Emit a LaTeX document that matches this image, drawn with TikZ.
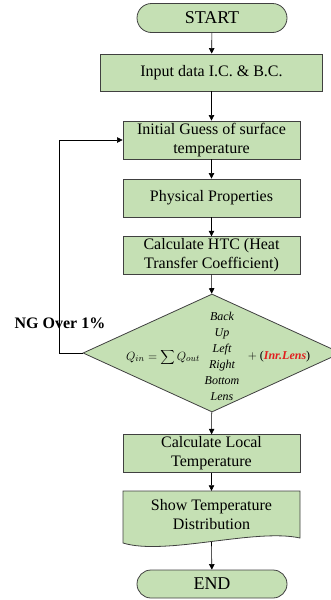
\documentclass[tikz,border=0pt]{standalone}
\usepackage{fontspec}
\setmainfont{Liberation Serif}
\usepackage{xcolor}
\usepackage{tikz}
\usetikzlibrary{shapes.geometric,arrows.meta}
\definecolor{BoxGreen}{RGB}{197,224,180}
\definecolor{EdgeGray}{RGB}{64,64,64}
\definecolor{LensRed}{RGB}{225,30,30}

\begin{document}
\begin{tikzpicture}[x=1pt,y=-1pt,
    stepbox/.style={draw=EdgeGray,fill=BoxGreen,line width=0.8pt,
      minimum width=177pt,minimum height=37pt,inner sep=2pt,
      align=center,font=\fontsize{16}{19}\selectfont},
    termbox/.style={stepbox,rounded corners=14.5pt,
      minimum width=150pt,minimum height=29pt,
      font=\fontsize{18}{20}\selectfont},
    flow/.style={-{Triangle[length=5.5pt,width=5.5pt]},line width=0.6pt}]
  \clip (0,0) rectangle (331,600);

  \node[termbox] (start) at (212,18) {START};
  \node[stepbox,minimum width=222pt] (input) at (211.5,72.5) {Input data I.C. \& B.C.};
  \node[stepbox,minimum height=38pt] (guess) at (211.5,140) {Initial Guess of surface\\temperature};
  \node[stepbox,minimum height=38pt] (props) at (211.5,198) {Physical Properties};
  \node[stepbox] (htc) at (211.5,255.5) {Calculate HTC (Heat\\Transfer Coefficient)};
  \node[diamond,draw=EdgeGray,fill=BoxGreen,line width=0.8pt,inner sep=0pt,
        minimum width=258pt,minimum height=118pt] (check) at (212,353) {};
  \node[stepbox] (local) at (211.5,453.5) {Calculate Local\\Temperature};
  % document shape with wavy bottom
  \draw[draw=EdgeGray,fill=BoxGreen,line width=0.8pt]
    (123,491) -- (300,491) -- (300,538)
    .. controls (255,528) and (165,556) .. (123,543) -- cycle;
  \node[align=center,font=\fontsize{16}{19}\selectfont,inner sep=0pt,
        minimum width=177pt,minimum height=48pt] (show) at (211.5,515)
        {Show Temperature\\Distribution};
  \coordinate (showbot) at (211.5,542);
  \node[termbox,minimum height=28pt,rounded corners=14pt] (end) at (212,584) {END};

  % texts inside the decision
  \node[font=\fontsize{13}{15}\selectfont] (qbal) at (163,357)
    {$\displaystyle Q_{in}=\sum Q_{out}$};
  \node[align=center,font=\itshape\fontsize{12}{16}\selectfont] (faces) at (222,356)
    {Back\\Up\\Left\\Right\\Bottom\\Lens};
  \node[font=\fontsize{12}{14}\selectfont] (inner) at (279,357)
    {$+$ (\textcolor{LensRed}{\textbf{\textit{Inr.Lens}}})};

  \draw[flow] (start) -- (input);
  \draw[flow] (input) -- (guess);
  \draw[flow] (guess) -- (props);
  \draw[flow] (props) -- (htc);
  \draw[flow] (htc) -- (check);
  \draw[flow] (check) -- (local);
  \draw[flow] (local) -- (show.north);
  \draw[flow] (showbot) -- (end);
  \draw[flow] (check.west) -- (59,353) -- (59,140) -- (guess.west);

  \node[font=\bfseries\fontsize{16}{19}\selectfont] (ng) at (60,323) {NG Over 1\%};
\end{tikzpicture}
\end{document}
